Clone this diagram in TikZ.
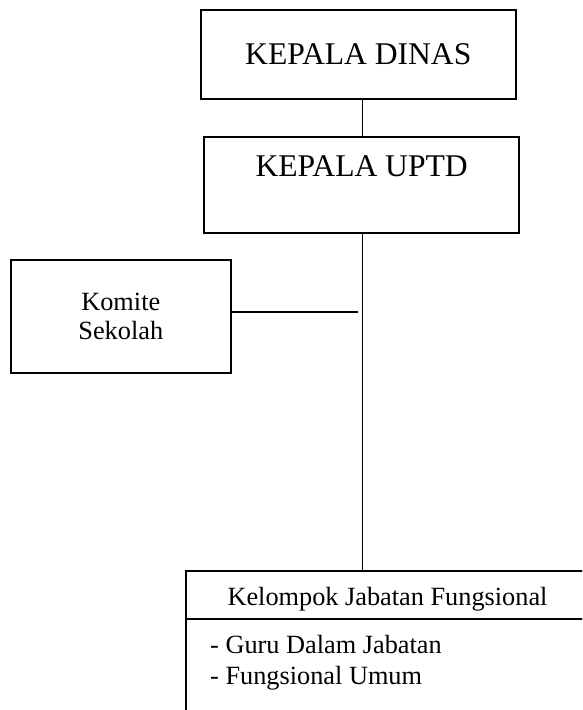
\documentclass[tikz,border=0pt]{standalone}
\usepackage{fontspec}
\setmainfont{Liberation Serif}
\usetikzlibrary{positioning}
\tikzset{
  unitbox/.style={draw,line width=1.8pt,inner sep=0pt},
  link/.style={line width=1.2pt},
  bigtext/.style={font=\fontsize{31.6}{38}\selectfont,inner sep=0pt},
  smalltext/.style={font=\fontsize{26.3}{29.3}\selectfont,inner sep=0pt}
}
\begin{document}
\begin{tikzpicture}[x=1pt,y=-1pt]
    \useasboundingbox (0,0) rectangle (582,710);
    \fill[white] (0,0) rectangle (582,710);
    \clip (0,0) rectangle (582,710);
    \node[unitbox,bigtext,minimum width=315.3pt,minimum height=89pt] (dinas) at (358.3,54.5) {KEPALA DINAS};
    \node[unitbox,minimum width=315.3pt,minimum height=96.6pt] (uptd) at (361.7,185) {};
    \node[bigtext,anchor=base] (uptdlabel) at (361.7,176.7) {KEPALA UPTD};
    \node[unitbox,smalltext,align=center,minimum width=219.7pt,minimum height=113pt] (komite) at (120.8,316.5) {Komite\\Sekolah};
    \node[unitbox,minimum width=403.4pt,minimum height=170pt] (kjf) at (387.3,655.7) {};
    \coordinate (split) at (0,619);
    \draw[line width=1.8pt] (kjf.west |- split) -- (kjf.east |- split);
    \node[smalltext,anchor=base] (kjftitle) at (387.5,605) {Kelompok Jabatan Fungsional};
    \node[smalltext,anchor=base west] (guru) at (210,653) {- Guru Dalam Jabatan};
    \node[smalltext,anchor=base west] (umum) at (210,684) {- Fungsional Umum};
    \coordinate (spine) at (362.5,0);
    \coordinate (komend) at (358.3,312);
    \draw[link] (dinas.south -| spine) -- (uptd.north -| spine);
    \draw[link] (uptd.south -| spine) -- (kjf.north -| spine);
    \draw[link] (komite.east |- komend) -- (komend);
\end{tikzpicture}
\end{document}
